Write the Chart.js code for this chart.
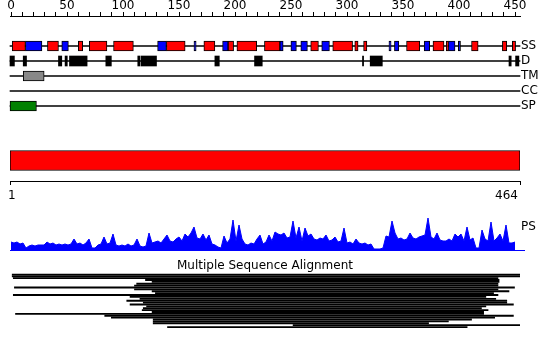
<!DOCTYPE html>
<html>
<head>
<meta charset="utf-8">
<script src="https://cdn.jsdelivr.net/npm/chart.js@4.4.0/dist/chart.umd.min.js"></script>
<style>
  html, body { margin: 0; padding: 0; background: #fff; }
  #wrap { position: relative; width: 550px; height: 349px; overflow: hidden; }
  .box { position: absolute; left: 0; width: 550px; }
  #psLabel { position: absolute; left: 521px; top: 219px; font: 12px "DejaVu Sans", sans-serif; color: #000; }
</style>
</head>
<body>
<div id="wrap">
  <div class="box" style="top:0;height:116px"><canvas id="tracksChart"></canvas></div>
  <div class="box" style="top:140px;height:62px"><canvas id="lengthChart"></canvas></div>
  <div class="box" style="top:200px;height:51px"><canvas id="psChart"></canvas></div>
  <div id="psLabel">PS</div>
  <div class="box" style="top:255px;height:94px"><canvas id="msaChart"></canvas></div>
</div>
<script>
const seqLength = 464;
const rulerLabels = [0, 50, 100, 150, 200, 250, 300, 350, 400, 450];
const lengthTicks = [1, 464];
const trackNames = ["SS", "D", "TM", "CC", "SP"];

// secondary structure (residue ranges)
const ssHelix = [[3, 15], [35, 45], [63, 67], [73, 89], [95, 113], [143, 160], [177, 187], [199, 204],
  [207, 225], [232, 246], [274, 281], [294, 312], [314, 317], [322, 325], [361, 373], [385, 395],
  [397, 399], [420, 426], [448, 452], [457, 460]];
const ssStrand = [[15, 30], [48, 54], [135, 143], [168, 170], [194, 199], [246, 249], [256, 261],
  [265, 271], [284, 291], [345, 347], [350, 354], [377, 382], [399, 405], [408, 410]];
const disorder = [[1, 5], [13, 16], [45, 48], [51, 53], [55, 71], [88, 93], [117, 119], [120, 134],
  [187, 191], [223, 230], [321, 322], [328, 339], [454, 456], [460, 463]];
const tmRegions = [[13, 32]];
const ccRegions = [];
const spRegions = [[1, 25]];

// profile score, one value every ~3px along the sequence
const psValues = [9, 8, 9, 7, 8, 3, 5, 6, 5, 6, 6, 6, 9, 7, 8, 6, 7, 6, 7, 6, 7, 12, 7, 8, 6, 8, 12, 3, 3, 6,
  7, 14, 7, 8, 17, 6, 5, 6, 5, 7, 5, 6, 12, 5, 4, 5, 18, 8, 9, 10, 8, 12, 16, 10, 9, 12, 14, 10, 17, 14,
  18, 24, 13, 12, 17, 11, 16, 7, 6, 4, 3, 15, 8, 12, 31, 10, 26, 12, 7, 6, 8, 7, 12, 16, 7, 9, 16, 10, 19, 17,
  16, 18, 13, 14, 30, 13, 24, 10, 23, 15, 17, 12, 11, 13, 12, 16, 10, 11, 14, 9, 10, 23, 8, 9, 7, 12, 8, 7, 8, 6,
  7, 2, 2, 2, 3, 15, 14, 30, 18, 12, 13, 11, 12, 18, 13, 12, 14, 15, 16, 33, 14, 12, 18, 11, 10, 10, 12, 10, 17, 14,
  17, 10, 24, 11, 13, 3, 3, 21, 12, 10, 29, 10, 13, 17, 10, 26, 8, 8, 9];

// aligned sequences: [start, end] in residues
const msaRows = [[3, 464], [3, 464], [4, 444], [124, 445], [130, 445], [116, 444], [114, 444], [5, 459],
  [114, 444], [130, 454], [133, 440], [4, 444], [110, 433], [119, 442], [107, 452], [122, 452], [110, 458],
  [125, 433], [122, 429], [121, 435], [130, 431], [6, 431], [87, 458], [93, 441], [131, 420], [131, 399],
  [131, 381], [258, 464], [144, 416]];

Chart.defaults.font.family = "'DejaVu Sans', sans-serif";
Chart.defaults.font.size = 12;
Chart.defaults.color = "#000";
Chart.defaults.animation = false;
Chart.defaults.events = [];
Chart.defaults.plugins.legend.display = false;
Chart.defaults.plugins.tooltip.enabled = false;

const toBars = (row, ranges) => ranges.map(r => ({ y: row, x: r }));
const boxSet = (row, ranges, fill, border, h) => ({
  data: toBars(row, ranges),
  backgroundColor: fill,
  borderColor: "#000",
  borderWidth: border,
  borderSkipped: false,
  barThickness: h,
  grouped: false,
  clip: false
});

// feature tracks with ruler
const rulerTicks = [];
for (let v = 0; v <= 450; v += 10) rulerTicks.push(v);

new Chart(document.getElementById("tracksChart"), {
  type: "bar",
  data: {
    labels: [" ", "  ", ...trackNames],
    datasets: [
      boxSet("SS", ssHelix, "#ff0000", 1, 10),
      boxSet("SS", ssStrand, "#0000ff", 1, 10),
      boxSet("D", disorder, "#000000", 0, 10),
      boxSet("TM", tmRegions, "#888888", 1, 10),
      boxSet("CC", ccRegions, "#ffcc00", 1, 10),
      boxSet("SP", spRegions, "#008000", 1, 10),
      {
        data: trackNames.map(n => ({ y: n, x: [1, seqLength] })),
        backgroundColor: "#000",
        borderWidth: 0,
        barThickness: 1,
        grouped: false,
        clip: false
      }
    ]
  },
  options: {
    indexAxis: "y",
    responsive: true,
    maintainAspectRatio: false,
    layout: { padding: { left: 10, right: 0, top: 0, bottom: 10 } },
    scales: {
      x: { type: "linear", min: 1, max: seqLength, display: false },
      xr: {
        type: "linear",
        position: "top",
        min: -1 / 1.12,
        max: 509 / 1.12,
        afterBuildTicks: s => { s.ticks = rulerTicks.map(v => ({ value: v })); },
        afterFit: s => { s.height = 16; },
        grid: { drawOnChartArea: false, tickLength: 4, color: "#000" },
        border: { color: "#000" },
        ticks: {
          autoSkip: false, maxRotation: 0, padding: -1,
          callback: v => rulerLabels.includes(v) ? String(v) : ""
        }
      },
      y: {
        type: "category",
        position: "right",
        offset: false,
        afterFit: s => { s.width = 30; },
        grid: { display: false, drawTicks: false },
        border: { display: false },
        ticks: { padding: 1, autoSkip: false }
      }
    }
  }
});

// full-length bar with axis
new Chart(document.getElementById("lengthChart"), {
  type: "bar",
  data: {
    labels: ["seq"],
    datasets: [{
      data: [[1, seqLength]],
      backgroundColor: "#ff0000",
      borderColor: "#000",
      borderWidth: 1,
      borderSkipped: false,
      barThickness: 20
    }]
  },
  options: {
    indexAxis: "y",
    responsive: true,
    maintainAspectRatio: false,
    layout: { padding: { left: 10, right: 30, top: 0, bottom: 0 } },
    scales: {
      x: {
        type: "linear",
        min: 1,
        max: seqLength,
        afterBuildTicks: s => { s.ticks = lengthTicks.map(v => ({ value: v })); },
        afterFit: s => { s.height = 21; },
        grid: { drawOnChartArea: false, tickLength: 4, color: "#000" },
        border: { color: "#000" },
        ticks: { autoSkip: false, maxRotation: 0, padding: 4, align: "inner", labelOffset: -2 }
      },
      y: { display: false }
    }
  }
});

// PS profile
new Chart(document.getElementById("psChart"), {
  type: "line",
  data: {
    datasets: [
      {
        data: psValues.map((v, i) => ({ x: i, y: v })),
        borderColor: "#0000ff",
        backgroundColor: "#0000ff",
        borderWidth: 1,
        fill: "origin",
        pointRadius: 0,
        tension: 0
      },
      {
        data: [{ x: -1 / 3, y: 0 }, { x: 514 / 3, y: 0 }],
        borderColor: "#0000ff",
        borderWidth: 2,
        pointRadius: 0,
        clip: false
      }
    ]
  },
  options: {
    responsive: true,
    maintainAspectRatio: false,
    layout: { padding: { left: 10, right: 30, top: 0, bottom: 0 } },
    scales: {
      x: { type: "linear", min: -1 / 3, max: 509 / 3, display: false },
      y: { min: 0, max: 51, display: false }
    }
  }
});

// multiple sequence alignment
new Chart(document.getElementById("msaChart"), {
  type: "bar",
  data: {
    labels: msaRows.map((r, i) => String(i)),
    datasets: [{
      data: msaRows,
      backgroundColor: "#000",
      borderWidth: 0,
      barThickness: 1.2
    }]
  },
  options: {
    indexAxis: "y",
    responsive: true,
    maintainAspectRatio: false,
    layout: { padding: { left: 10, right: 30, top: 0, bottom: 21 } },
    plugins: {
      title: {
        display: true,
        text: "Multiple Sequence Alignment",
        font: { size: 12, weight: "normal" },
        color: "#000",
        padding: { top: 4, bottom: 0 }
      }
    },
    scales: {
      x: { type: "linear", min: 1, max: seqLength, display: false },
      y: { display: false }
    }
  }
});
</script>
</body>
</html>
